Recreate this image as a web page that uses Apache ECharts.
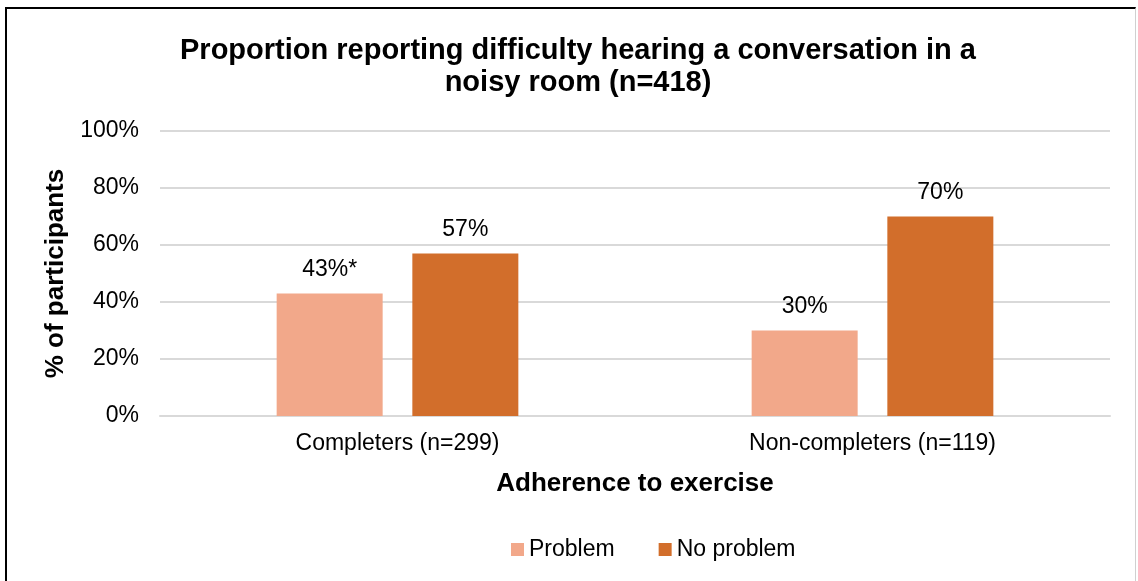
<!DOCTYPE html>
<html>
<head>
<meta charset="utf-8">
<script src="https://cdn.jsdelivr.net/npm/echarts@6/dist/echarts.min.js"></script>
<style>
  html, body { margin: 0; padding: 0; background: #fff; }
  #chart {
    position: absolute;
    left: 5px; top: 7px;
    width: 1131px; height: 574px;
    border-top: 2px solid #000;
    border-left: 2px solid #000;
    border-right: 1px solid #d0d0d0;
    box-sizing: border-box;
  }
</style>
</head>
<body>
<div id="chart"></div>
<script>
const categories = ['Completers (n=299)', 'Non-completers (n=119)']
const problem = [43, 30]
const noProblem = [57, 70]
const problemLabels = ['43%*', '30%']
const noProblemLabels = ['57%', '70%']
const yTicks = [0, 20, 40, 60, 80, 100]

const font = 'Liberation Sans, Arial, sans-serif'
const myChart = echarts.init(document.getElementById('chart'))

const option = {
  title: {
    text: 'Proportion reporting difficulty hearing a conversation in a\nnoisy room (n=418)',
    left: 566,
    textAlign: 'center',
    top: 21,
    textStyle: {
      fontFamily: font,
      fontSize: 29,
      fontWeight: 'bold',
      color: '#000',
      lineHeight: 32
    }
  },
  legend: {
    left: 499,
    top: 524,
    itemWidth: 13,
    itemHeight: 13,
    itemGap: 44,
    icon: 'rect',
    textStyle: { fontFamily: font, fontSize: 23, color: '#000' },
    data: ['Problem', 'No problem']
  },
  grid: {
    left: 153,
    right: 25,
    top: 122,
    bottom: 165
  },
  xAxis: {
    type: 'category',
    data: categories,
    name: 'Adherence to exercise',
    nameLocation: 'middle',
    nameGap: 55,
    nameTextStyle: { fontFamily: font, fontSize: 26, fontWeight: 'bold', color: '#000' },
    axisLine: { lineStyle: { color: '#d9d9d9', width: 2 } },
    axisTick: { show: false },
    axisLabel: { fontFamily: font, fontSize: 23, color: '#000', margin: 16 }
  },
  yAxis: {
    type: 'value',
    min: yTicks[0],
    max: yTicks[yTicks.length - 1],
    interval: 20,
    name: '% of participants',
    nameLocation: 'middle',
    nameGap: 88,
    nameTextStyle: { fontFamily: font, fontSize: 26, fontWeight: 'bold', color: '#000' },
    axisLine: { show: false },
    axisTick: { show: false },
    axisLabel: { fontFamily: font, fontSize: 23, color: '#000', margin: 21, formatter: '{value}%' },
    splitLine: { lineStyle: { color: '#d9d9d9', width: 2 } }
  },
  series: [
    {
      name: 'Problem',
      type: 'bar',
      data: problem,
      barWidth: 106,
      barGap: '28%',
      itemStyle: { color: '#F2A88A' },
      label: {
        show: true,
        position: 'top',
        distance: 12,
        fontFamily: font,
        fontSize: 23,
        color: '#000',
        formatter: p => problemLabels[p.dataIndex]
      }
    },
    {
      name: 'No problem',
      type: 'bar',
      data: noProblem,
      barWidth: 106,
      itemStyle: { color: '#D26E2B' },
      label: {
        show: true,
        position: 'top',
        distance: 12,
        fontFamily: font,
        fontSize: 23,
        color: '#000',
        formatter: p => noProblemLabels[p.dataIndex]
      }
    }
  ]
}

myChart.setOption(option)
window.addEventListener('resize', () => {
  myChart.resize()
})
</script>
</body>
</html>
